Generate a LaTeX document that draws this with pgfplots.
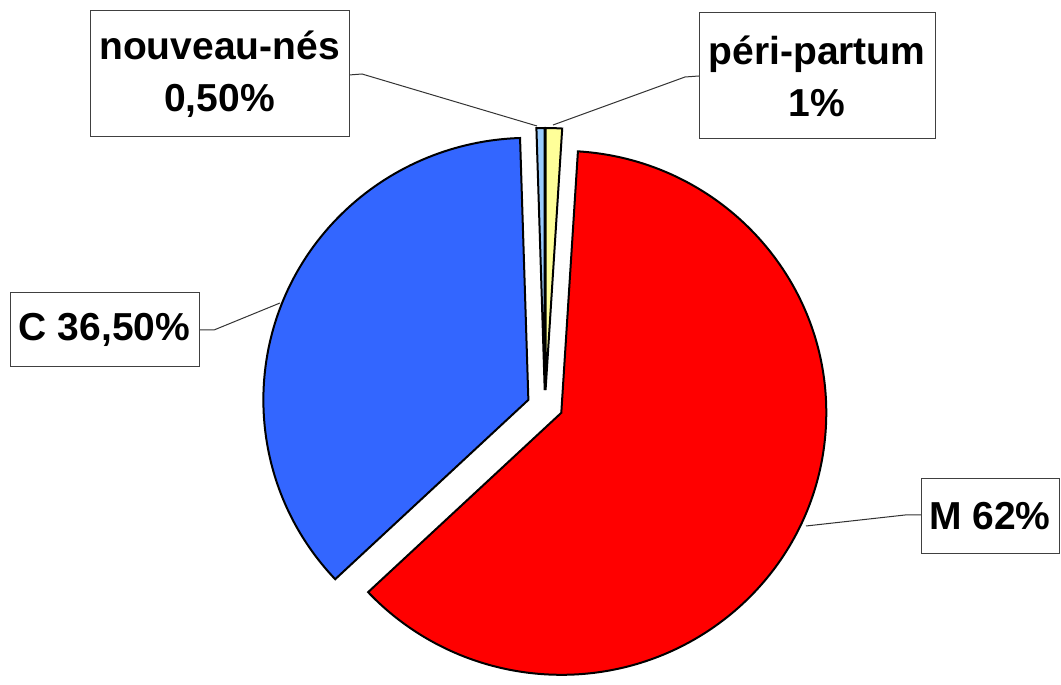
\documentclass[border=0pt]{standalone}
\usepackage{pgfplots}
\pgfplotsset{compat=1.18}
\usepackage{fontspec}
\setmainfont{Liberation Sans}

\definecolor{pyellow}{HTML}{FFFF99}
\definecolor{pred}{HTML}{FF0000}
\definecolor{pblue}{HTML}{3366FF}
\definecolor{plight}{HTML}{99CCFF}

% pie geometry, 1 axis unit = 1pt
\def\cx{545}\def\cy{269}
\def\rx{265}\def\ry{262}   % radii
\def\dx{18}\def\dy{16}     % explosion
\gdef\cum{0}

% one exploded slice, clockwise from 12 o'clock
\newcommand\slice[2]{%
  \pgfmathsetmacro\sa{90-3.6*\cum}%
  \pgfmathsetmacro\newcum{\cum+#1}%
  \xdef\cum{\newcum}%
  \pgfmathsetmacro\ea{90-3.6*\cum}%
  \pgfmathsetmacro\ma{(\sa+\ea)/2}%
  \pgfmathsetmacro\ox{\cx+\dx*cos(\ma)}%
  \pgfmathsetmacro\oy{\cy+\dy*sin(\ma)}%
  \edef\temp{\noexpand\filldraw[fill=#2, draw=black, line width=2pt, line join=miter]
    (axis cs:\ox,\oy) -- ++(\sa:\rx pt and \ry pt)
    arc[start angle=\sa, end angle=\ea, x radius=\rx pt, y radius=\ry pt] -- cycle;}%
  \temp}

\tikzset{lbl/.style={draw=black!75, line width=1pt, fill=white, align=center, inner sep=0pt,
  font=\fontsize{39}{52}\selectfont\bfseries}}

\begin{document}
\begin{tikzpicture}
\begin{axis}[
    scale only axis,
    width=1061pt, height=675pt,
    xmin=0, xmax=1061, ymin=0, ymax=675,
    enlargelimits=false,
    hide axis,
    clip=false
]
\path (axis cs:0,0) rectangle (axis cs:1061,675);

% values in %
\slice{1}{pyellow}     % péri-partum
\slice{62}{pred}       % M
\slice{36.5}{pblue}    % C
\slice{0.5}{plight}    % nouveau-nés

% leader lines
\addplot[black!80, line width=1pt] coordinates {(349,600) (362,601) (537,549)};
\addplot[black!80, line width=1pt] coordinates {(699,599) (685,598) (553,550)};
\addplot[black!80, line width=1pt] coordinates {(199,345) (214,345) (280,372)};
\addplot[black!80, line width=1pt] coordinates {(921,160) (905,160) (806,149)};

\node[lbl, minimum width=259pt, minimum height=126pt] at (axis cs:219.5,601) {nouveau-nés\\0,50\%};
\node[lbl, minimum width=236pt, minimum height=126pt] at (axis cs:817,599) {péri-partum\\1\%};
\node[lbl, minimum width=189pt, minimum height=74pt] at (axis cs:104.5,345) {C 36,50\%};
\node[lbl, minimum width=138pt, minimum height=75pt] at (axis cs:990,158.5) {M 62\%};
\end{axis}
\end{tikzpicture}
\end{document}
